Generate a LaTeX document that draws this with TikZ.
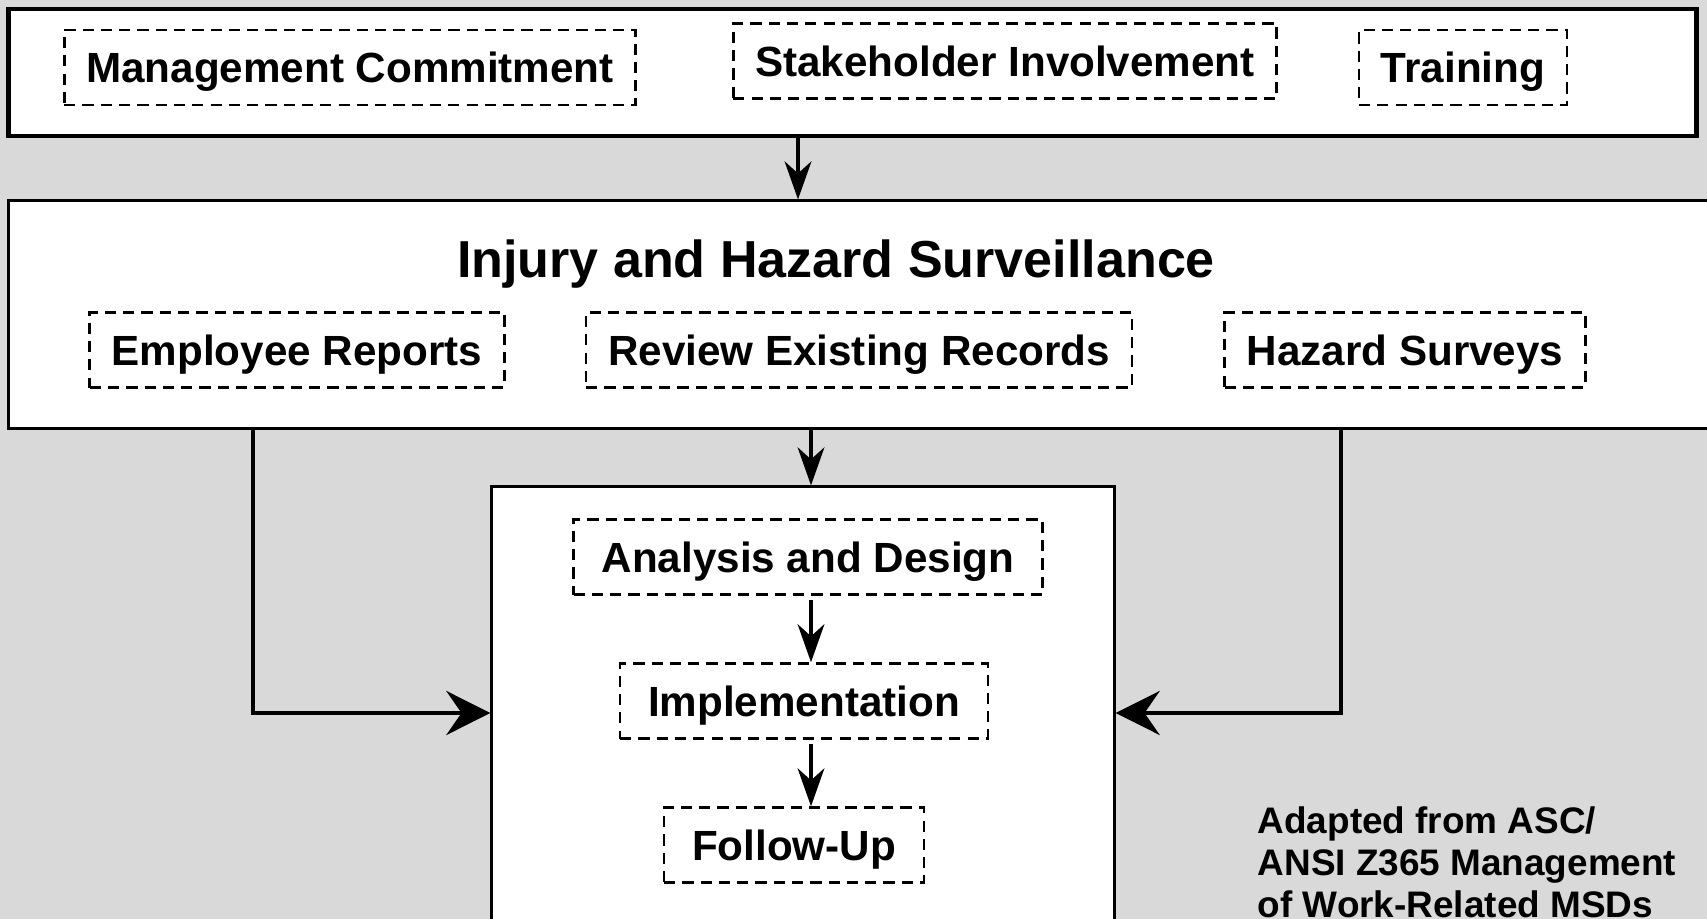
\documentclass[tikz,border=0pt]{standalone}
\usepackage{fontspec}
\setmainfont{Liberation Sans}
\usetikzlibrary{arrows.meta,positioning}
\definecolor{bggray}{HTML}{D9D9D9}

\begin{document}
\begin{tikzpicture}[x=0.01cm,y=-0.01cm,node distance=1.44cm,
    dash node/.style={draw,fill=white,dash pattern=on 3.2pt off 2pt,line width=0.75pt,
      font=\fontsize{12}{14}\selectfont\bfseries,text height=8.6pt,text depth=0pt,
      inner xsep=0.22cm,minimum height=0.75cm},
    big node/.style={draw,fill=white,line width=0.85pt},
    down arrow/.style={-{Stealth[length=10.8pt,width=7.6pt,inset=3.4pt]},line width=1.05pt},
    side arrow/.style={-{Stealth[length=12.5pt,width=12.5pt,inset=4.3pt]},line width=1.4pt}]
    \useasboundingbox (0,0) rectangle (1707,919);
    \clip (0,0) rectangle (1707,919);
    \fill[bggray] (0,0) rectangle (1707,919);

    % frames
    \node[big node,line width=1.3pt,minimum width=16.87cm,minimum height=1.27cm] (top) at (852.5,72.5) {};
    \node[big node,minimum width=17.2cm,minimum height=2.27cm] (surv) at (869,314.5) {};
    \node[big node,minimum width=6.22cm,minimum height=4.8cm] (ctr) at (803,727) {};

    % program elements
    \node[dash node] (mgmt) at (350,67.5) {Management Commitment};
    \node[dash node] (stake) at (1005,61) {Stakeholder Involvement};
    \node[dash node] (train) at (1463,67.5) {Training};

    \node[font=\fontsize{14.8}{17}\selectfont\bfseries,text height=10.6pt,text depth=0pt] (title) at (836,259) {Injury and Hazard Surveillance};
    \node[dash node] (reports) at (297,350) {Employee Reports};
    \node[dash node] (records) at (859,350) {Review Existing Records};
    \node[dash node] (surveys) at (1405,350) {Hazard Surveys};

    \node[dash node,inner xsep=0.28cm] (design) at (808,557) {Analysis and Design};
    \node[dash node,inner xsep=0.28cm] (impl) [below of=design,xshift=-0.04cm] {Implementation};
    \node[dash node,inner xsep=0.28cm] (follow) [below of=impl,xshift=-0.1cm] {Follow-Up};

    \node[font=\fontsize{10.5}{11.95}\selectfont\bfseries,align=left,anchor=north west,inner sep=0pt] (source) at (1257,806)
        {Adapted from ASC/\\ANSI Z365 Management\\of Work-Related MSDs};

    % connectors
    \coordinate (drop) at (798,0);
    \coordinate (lft) at (253,713);
    \coordinate (rgt) at (1341,713);
    \coordinate (chain) at (811,0);
    \draw[down arrow] (top.south -| drop) -- (surv.north -| drop);
    \draw[down arrow] (surv.south -| chain) -- (ctr.north -| chain);
    \draw[down arrow,shorten <=1.2pt] (design.south -| chain) -- (impl.north -| chain);
    \draw[down arrow,shorten <=1.2pt] (impl.south -| chain) -- (follow.north -| chain);
    \draw[side arrow] (surv.south -| lft) |- (ctr.west |- lft);
    \draw[side arrow] (surv.south -| rgt) |- (ctr.east |- rgt);
\end{tikzpicture}
\end{document}
